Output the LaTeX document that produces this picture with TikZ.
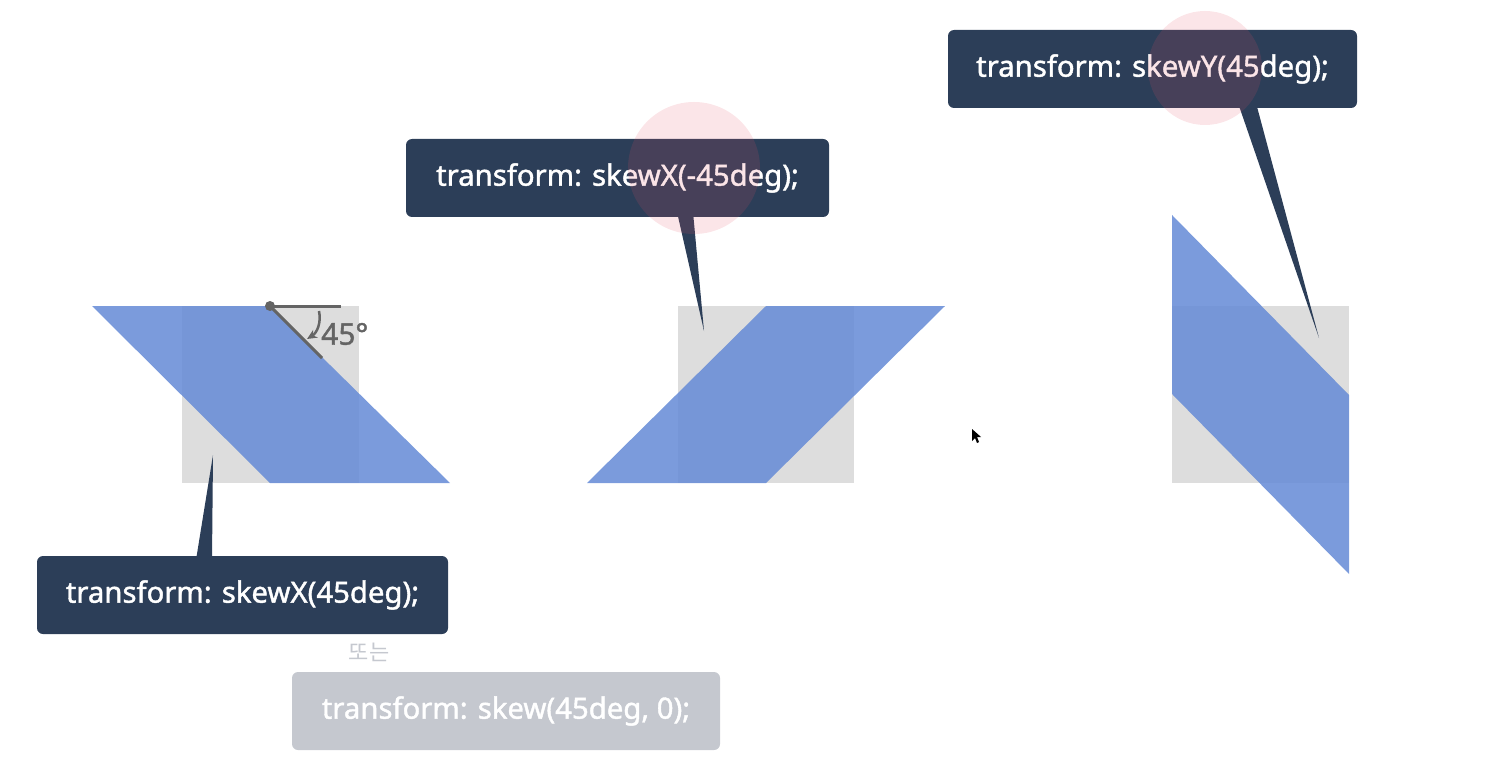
\documentclass[tikz,border=0pt]{standalone}
\usepackage{fontspec}
\setmainfont{Noto Sans}
\newfontfamily\krfont{Noto Sans CJK KR}
\newfontfamily\semifont{Noto Sans}[FakeBold=1.4]
\usetikzlibrary{arrows.meta, calc}
\definecolor{navy}{RGB}{44, 62, 88}
\definecolor{paper}{RGB}{221, 221, 221}
\definecolor{skewblue}{RGB}{100, 138, 214}
\definecolor{pale}{RGB}{197, 200, 207}
\definecolor{marker}{RGB}{100, 100, 100}
\definecolor{spot}{RGB}{230, 80, 100}

\begin{document}
\begin{tikzpicture}[x=1pt, y=-1pt,
    square/.style={fill=paper},
    skewed/.style={fill=skewblue, fill opacity=0.85},
    callout/.style={fill=navy, rounded corners=6pt, text=white, minimum height=78pt, align=center, font=\semifont\fontsize{29.3}{35}\selectfont},
    hint/.style={fill=pale, rounded corners=6pt, text=white, minimum height=78pt, minimum width=428pt, font=\semifont\fontsize{29.3}{35}\selectfont},
    tail/.style={fill=navy},
    spotlight/.style={fill=spot, fill opacity=0.15}
  ]
  \useasboundingbox (0,0) rectangle (1512,762);

  % Squares
  \fill[square] (182,306) rectangle (359,483);
  \fill[square] (678,306) rectangle (854,483);
  \fill[square] (1172,306) rectangle (1349,483);

  % Skewed shapes
  \fill[skewed] (92,306) -- (270,306) -- (450,483) -- (270,483) -- cycle;
  \fill[skewed] (766,306) -- (945,306) -- (766,483) -- (587,483) -- cycle;
  \fill[skewed] (1172,215) -- (1349,395) -- (1349,574) -- (1172,394) -- cycle;

  % Angle mark
  \coordinate (corner) at (270,306);
  \draw[marker, line width=3pt] (corner) -- (341,306);
  \draw[marker, line width=3pt] (corner) -- (322,358);
  \fill[marker] (corner) circle (5pt);
  \draw[marker, line width=2.5pt, -{Stealth[length=10pt, width=9pt]}] (319,311) to[bend left=35] (307,339);
  \node[text=marker, font=\semifont\fontsize{30}{36}\selectfont, anchor=west, inner sep=0pt] (angle) at (321,334) {45°};

  % Tip points
  \coordinate (tipA) at (213,455);
  \coordinate (tipB) at (704,331);
  \coordinate (tipC) at (1319,338);

  % Tails
  \fill[tail] (196,560) -- (tipA) -- (212,560) -- cycle;
  \fill[tail] (677,212) -- (tipB) -- (693,212) -- cycle;
  \fill[tail] (1238,103) -- (tipC) -- (1256,103) -- cycle;

  % Callouts
  \node[callout, minimum width=411pt] (skewx) at (242.5,595) {transform: skewX(45deg);};
  \node[callout, minimum width=423pt] (skewxneg) at (617.5,178) {transform: skewX(-45deg);};
  \node[callout, minimum width=409pt] (skewy) at (1152.5,69) {transform: skewY(45deg);};

  % Alternative
  \node[text=pale, font=\krfont\fontsize{22}{26}\selectfont] (or) at (369,652) {또는};
  \node[hint] (skew) at (506,711) {transform: skew(45deg, 0);};

  % Pointer highlights
  \fill[spotlight] (694,168) circle (66pt);
  \fill[spotlight] (1205,68) circle (57pt);

  % Cursor
  \fill[black] (972,429) -- (972,441) -- (975,438) -- (977,443) -- (979,442) -- (977,437) -- (981,437) -- cycle;
\end{tikzpicture}
\end{document}
